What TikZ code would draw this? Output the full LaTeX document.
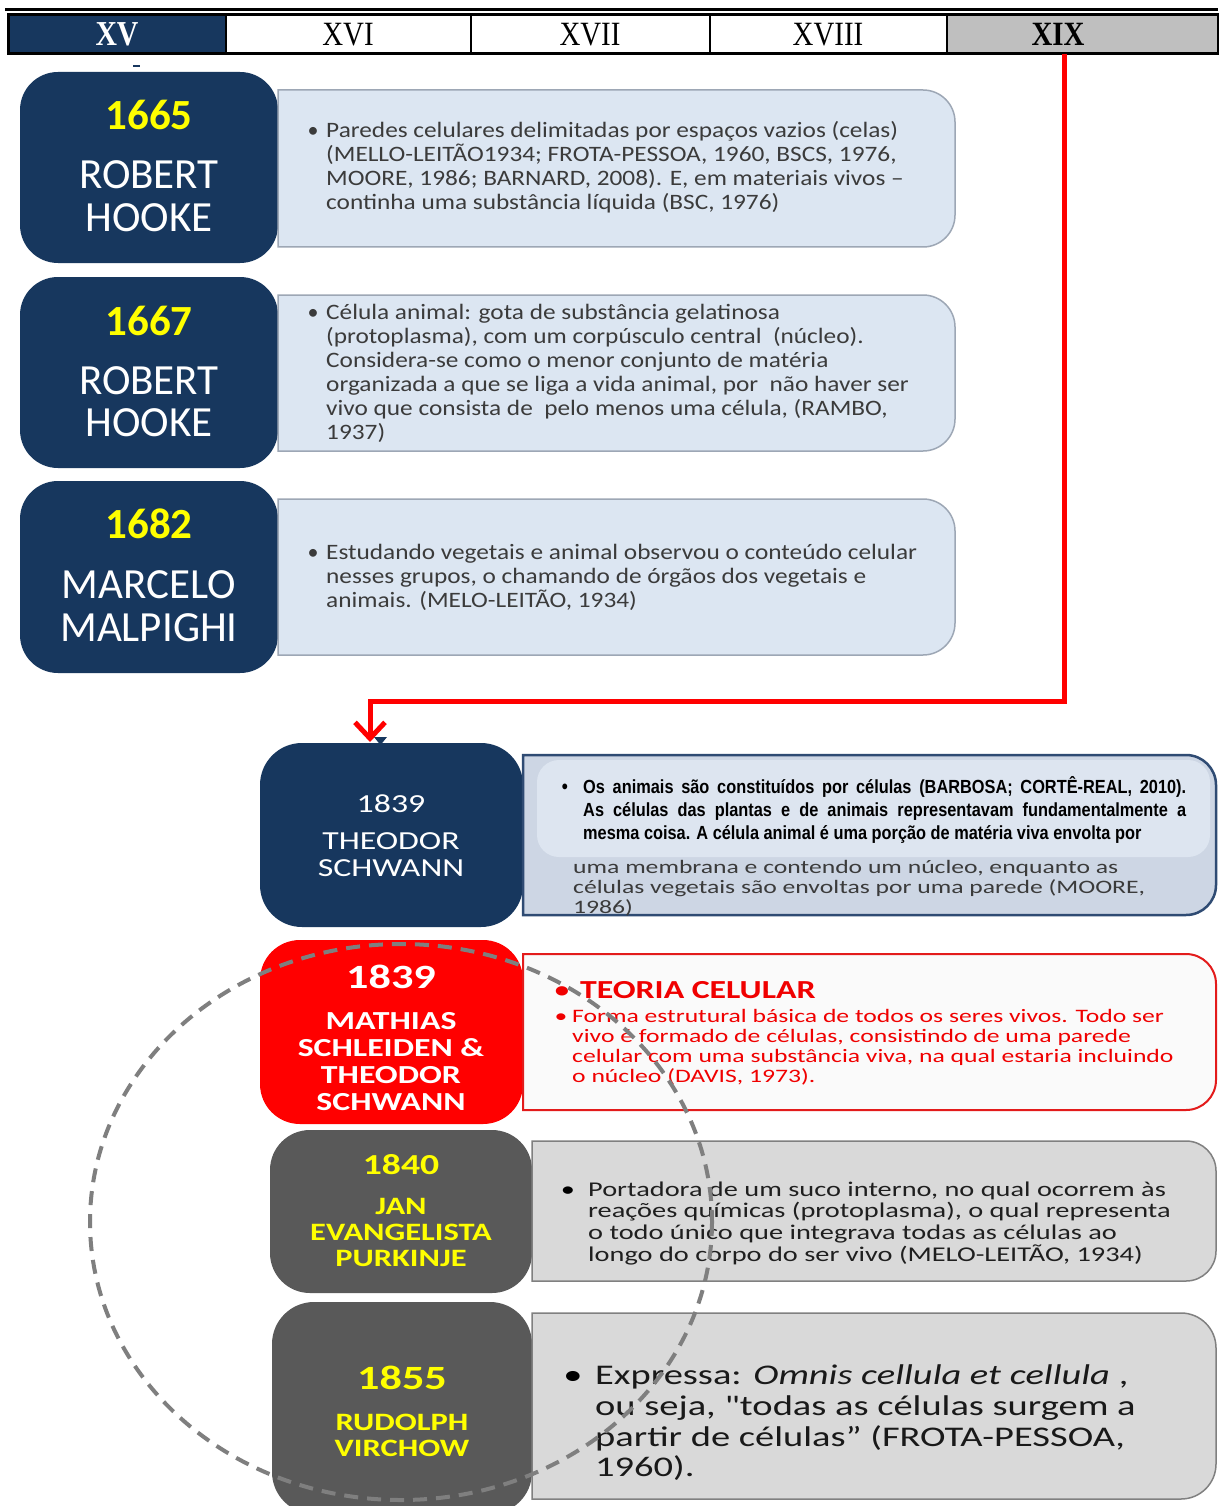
\documentclass[tikz,border=0pt]{standalone}
\usepackage{fontspec}
\setmainfont{Carlito}
\newfontfamily\topfont{Carlito}[FakeStretch=1.15]
\newfontfamily\widefont{Carlito}[FakeStretch=1.3]
\newfontfamily\bodyfont{Carlito}[FakeStretch=1.35]
\newfontfamily\narrowfont{Liberation Sans}[FakeStretch=0.86]
\newfontfamily\headfont{Liberation Serif}[FakeStretch=0.85]
\usetikzlibrary{arrows.meta}

\definecolor{navy}{HTML}{17375E}
\definecolor{yel}{HTML}{FFFF00}
\definecolor{lblue}{HTML}{DCE6F2}
\definecolor{lborder}{HTML}{9DA7B5}
\definecolor{sblue}{HTML}{CDD6E4}
\definecolor{sblueinner}{HTML}{DDE5F0}
\definecolor{sborder}{HTML}{2F4B73}
\definecolor{txtgray}{HTML}{3B3B3B}
\definecolor{dgray}{HTML}{595959}
\definecolor{lgray}{HTML}{D9D9D9}
\definecolor{gborder}{HTML}{808080}
\definecolor{cellgray}{HTML}{BFBFBF}
\definecolor{tred}{HTML}{F00000}
\definecolor{rborder}{HTML}{E31B1B}
\definecolor{dashgray}{HTML}{7F7F7F}

\newcommand\setfs[1]{\fontsize{#1pt}{#1pt}\selectfont}
% box with square left side and rounded right corners: style, x1, y1, x2, y2, radius
\newcommand\rrbox[6]{%
  \path[#1] (#2,#3) -- ({#4-#6},#3) arc[start angle=-90,end angle=0,radius=#6]
    -- (#4,{#5-#6}) arc[start angle=0,end angle=90,radius=#6] -- (#2,#5) -- cycle;}

\tikzset{
  cell/.style={draw=black, line width=1.5pt, anchor=north west, minimum height=39pt,
    inner sep=0pt, outer sep=0pt},
  darkbox/.style={draw=none, rounded corners=38pt, inner sep=0pt, outer sep=0pt,
    anchor=north west},
  lbl/.style={inner sep=0pt, anchor=base},
  ln/.style={inner sep=0pt, anchor=base west},
  topln/.style={ln, font=\topfont\setfs{22}, text=txtgray},
  topbul/.style={lbl, font=\setfs{22}, text=txtgray},
  redline/.style={draw=red, line width=5pt},
}

\begin{document}
\begin{tikzpicture}[x=1pt, y=-1pt]
\useasboundingbox (0,0) rectangle (1218,1506);
\fill[white] (0,0) rectangle (1218,1506);

% ---------- century header ----------
\draw[line width=3pt] (5,10) -- (1218,10);
\node[cell, fill=navy, minimum width=218pt] (h15) at (8,15) {};
\node[cell, fill=white, minimum width=245pt] (h16) at (226,15) {};
\node[cell, fill=white, minimum width=239pt] (h17) at (471,15) {};
\node[cell, fill=white, minimum width=237pt] (h18) at (710,15) {};
\node[cell, fill=cellgray, minimum width=271pt] (h19) at (947,15) {};
\draw[line width=3pt] (h15.north west) rectangle (h19.south east);
\node[lbl, font=\headfont\bfseries\setfs{35}, text=white] (t15) at (117,46) {XV};
\node[lbl, font=\headfont\setfs{34}] (t16) at (348,46) {XVI};
\node[lbl, font=\headfont\setfs{34}] (t17) at (590,46) {XVII};
\node[lbl, font=\headfont\setfs{34}] (t18) at (828,46) {XVIII};
\node[lbl, font=\headfont\bfseries\setfs{34}] (t19) at (1058,46) {XIX};

\draw[line width=2pt, navy] (133,66) -- (140,66);

% ---------- seventeenth century ----------
\node[darkbox, fill=navy, minimum width=258pt, minimum height=191pt] (b1665) at (20,72) {};
\node[darkbox, fill=navy, minimum width=258pt, minimum height=191pt] (b1667) at (20,277) {};
\node[darkbox, fill=navy, minimum width=258pt, minimum height=192pt] (b1682) at (20,481) {};

\node[lbl, font=\bfseries\setfs{43}, text=yel] (y1665) at (149,130) {1665};
\node[lbl, font=\setfs{43}, text=white] (n1665a) at (149,189) {ROBERT};
\node[lbl, font=\setfs{43}, text=white] (n1665b) at (149,232) {HOOKE};
\node[lbl, font=\bfseries\setfs{43}, text=yel] (y1667) at (149,335) {1667};
\node[lbl, font=\setfs{43}, text=white] (n1667a) at (149,394) {ROBERT};
\node[lbl, font=\setfs{43}, text=white] (n1667b) at (149,436) {HOOKE};
\node[lbl, font=\bfseries\setfs{43}, text=yel] (y1682) at (149,538) {1682};
\node[lbl, font=\setfs{43}, text=white] (n1682a) at (149,598) {MARCELO};
\node[lbl, font=\setfs{43}, text=white] (n1682b) at (149,641) {MALPIGHI};

\rrbox{fill=lblue, draw=lborder, line width=1.5pt}{278}{90}{955}{247}{32}
\rrbox{fill=lblue, draw=lborder, line width=1.5pt}{278}{295}{955}{451}{32}
\rrbox{fill=lblue, draw=lborder, line width=1.5pt}{278}{499}{955}{655}{32}

\node[topbul] (u1) at (313,138) {•};
\node[topln] (a1) at (326,138) {Paredes celulares delimitadas por espaços vazios (celas)};
\node[topln] (a2) at (326,162) {(MELLO-LEITÃO1934; FROTA-PESSOA, 1960, BSCS, 1976,};
\node[topln] (a3) at (326,186) {MOORE, 1986; BARNARD, 2008). E, em materiais vivos –};
\node[topln] (a4) at (326,210) {continha uma substância líquida (BSC, 1976)};

\node[topbul] (u2) at (313,319) {•};
\node[topln] (b1) at (326,319) {Célula animal: gota de substância gelatinosa};
\node[topln] (b2) at (326,343) {(protoplasma), com um corpúsculo central\ \ (núcleo).};
\node[topln] (b3) at (326,367) {Considera-se como o menor conjunto de matéria};
\node[topln] (b4) at (326,391) {organizada a que se liga a vida animal, por\ \ não haver ser};
\node[topln] (b5) at (326,415) {vivo que consista de\ \ pelo menos uma célula, (RAMBO,};
\node[topln] (b6) at (326,439) {1937)};

\node[topbul] (u3) at (313,559) {•};
\node[topln] (c1) at (326,559) {Estudando vegetais e animal observou o conteúdo celular};
\node[topln] (c2) at (326,583) {nesses grupos, o chamando de órgãos dos vegetais e};
\node[topln] (c3) at (326,607) {animais. (MELO-LEITÃO, 1934)};

% ---------- nineteenth century ----------
\node[darkbox, rounded corners=42pt, fill=navy, minimum width=263pt, minimum height=184pt] (b1839a) at (260,743) {};
\node[darkbox, rounded corners=40pt, fill=red, minimum width=263pt, minimum height=184pt] (b1839b) at (260,940) {};
\node[darkbox, rounded corners=40pt, fill=dgray, minimum width=262pt, minimum height=163pt] (b1840) at (270,1130) {};
\node[darkbox, rounded corners=42pt, fill=dgray, minimum width=260pt, minimum height=212pt] (b1855) at (272,1302) {};

% connector from the XIX column down to the 1839 box
\coordinate (rstart) at (1064,54);
\coordinate (rbend) at (1064,701);
\coordinate (rtip) at (370,742);
\draw[redline, -{Straight Barb[length=16pt,width=30pt]}] (rstart) -- (rbend) -| (rtip);
\fill[navy] (374,737) -- (387,737) -- (380.5,745) -- cycle;

% Schwann
\node[lbl, font=\widefont\setfs{26}, text=white] (y1839a) at (391,812) {1839};
\node[lbl, font=\widefont\setfs{26}, text=white] (n1839a) at (391,849) {THEODOR};
\node[lbl, font=\widefont\setfs{26}, text=white] (n1839b) at (391,876) {SCHWANN};

\rrbox{fill=sblue, draw=sborder, line width=2.5pt}{523}{755}{1216}{915}{30}
\fill[sblueinner, rounded corners=22pt] (537,760) rectangle (1210,857);
\node[lbl, font=\narrowfont\bfseries\setfs{20}] (u4) at (565,793) {•};
\node[ln, font=\narrowfont\bfseries\setfs{19}] (d1) at (583,793) {\makebox[603pt][s]{Os animais são constituídos por células (BARBOSA; CORTÊ-REAL, 2010).}};
\node[ln, font=\narrowfont\bfseries\setfs{19}] (d2) at (583,816) {\makebox[603pt][s]{As células das plantas e de animais representavam fundamentalmente a}};
\node[ln, font=\narrowfont\bfseries\setfs{19}] (d3) at (583,839) {mesma coisa. A célula animal é uma porção de matéria viva envolta por};
\node[ln, font=\bodyfont\setfs{19}, text=txtgray] (d4) at (573,873) {uma membrana e contendo um núcleo, enquanto as};
\node[ln, font=\bodyfont\setfs{19}, text=txtgray] (d5) at (573,893) {células vegetais são envoltas por uma parede (MOORE,};
\node[ln, font=\bodyfont\setfs{19}, text=txtgray] (d6) at (573,913) {1986)};

% Schleiden & Schwann
\node[lbl, font=\widefont\bfseries\setfs{34}, text=white] (y1839b) at (391,988) {1839};
\node[lbl, font=\widefont\bfseries\setfs{26}, text=white] (n1839c) at (391,1029) {MATHIAS};
\node[lbl, font=\widefont\bfseries\setfs{26}, text=white] (n1839d) at (391,1056) {SCHLEIDEN \&};
\node[lbl, font=\widefont\bfseries\setfs{26}, text=white] (n1839e) at (391,1083) {THEODOR};
\node[lbl, font=\widefont\bfseries\setfs{26}, text=white] (n1839f) at (391,1110) {SCHWANN};

\rrbox{fill=white!98!black, draw=rborder, line width=2pt}{523}{954}{1216}{1110}{30}
\node[lbl, font=\widefont\bfseries\setfs{22}, text=tred] (u5) at (562,997) {•};
\node[ln, font=\widefont\bfseries\setfs{26}, text=tred] (e0) at (580,998) {TEORIA CELULAR};
\node[lbl, font=\bodyfont\setfs{19}, text=tred] (u6) at (561,1022) {•};
\node[ln, font=\bodyfont\setfs{19}, text=tred] (e1) at (572,1022) {Forma estrutural básica de todos os seres vivos. Todo ser};
\node[ln, font=\bodyfont\setfs{19}, text=tred] (e2) at (572,1042) {vivo é formado de células, consistindo de uma parede};
\node[ln, font=\bodyfont\setfs{19}, text=tred] (e3) at (572,1062) {celular com uma substância viva, na qual estaria incluindo};
\node[ln, font=\bodyfont\setfs{19}, text=tred] (e4) at (572,1082) {o núcleo (DAVIS, 1973).};

% Purkinje
\node[lbl, font=\widefont\bfseries\setfs{29}, text=yel] (y1840) at (401,1174) {1840};
\node[lbl, font=\widefont\bfseries\setfs{25}, text=yel] (n1840a) at (401,1214) {JAN};
\node[lbl, font=\widefont\bfseries\setfs{25}, text=yel] (n1840b) at (401,1240) {EVANGELISTA};
\node[lbl, font=\widefont\bfseries\setfs{25}, text=yel] (n1840c) at (401,1266) {PURKINJE};

\rrbox{fill=lgray, draw=gborder, line width=1.5pt}{532}{1141}{1216}{1281}{30}
\node[lbl, font=\bodyfont\setfs{21}] (u7) at (568,1196) {•};
\node[ln, font=\bodyfont\setfs{21}, text=black!88] (f1) at (588,1196) {Portadora de um suco interno, no qual ocorrem às};
\node[ln, font=\bodyfont\setfs{21}, text=black!88] (f2) at (588,1217) {reações químicas (protoplasma), o qual representa};
\node[ln, font=\bodyfont\setfs{21}, text=black!88] (f3) at (588,1239) {o todo único que integrava todas as células ao};
\node[ln, font=\bodyfont\setfs{21}, text=black!88] (f4) at (588,1261) {longo do corpo do ser vivo (MELO-LEITÃO, 1934)};

% Virchow
\node[lbl, font=\widefont\bfseries\setfs{34}, text=yel] (y1855) at (402,1389) {1855};
\node[lbl, font=\widefont\bfseries\setfs{25}, text=yel] (n1855a) at (402,1430) {RUDOLPH};
\node[lbl, font=\widefont\bfseries\setfs{25}, text=yel] (n1855b) at (402,1456) {VIRCHOW};

\rrbox{fill=lgray, draw=gborder, line width=1.5pt}{532}{1313}{1216}{1499}{35}
\node[lbl, font=\bodyfont\setfs{28.5}] (u8) at (573,1384) {•};
\node[ln, font=\bodyfont\setfs{28.5}, text=black!90] (g1) at (595,1384) {Expressa: \textit{Omnis cellula et cellula} ,};
\node[ln, font=\bodyfont\setfs{28.5}, text=black!90] (g2) at (595,1415) {ou seja, "todas as células surgem a};
\node[ln, font=\bodyfont\setfs{28.5}, text=black!90] (g3) at (595,1446) {partir de células” (FROTA-PESSOA,};
\node[ln, font=\bodyfont\setfs{28.5}, text=black!90] (g4) at (595,1476) {1960).};

% dashed ellipse grouping the founders of cell theory
\draw[dashgray, line width=4pt, dash pattern=on 14pt off 9pt] (401,1222) ellipse [x radius=311, y radius=278];
\end{tikzpicture}
\end{document}
